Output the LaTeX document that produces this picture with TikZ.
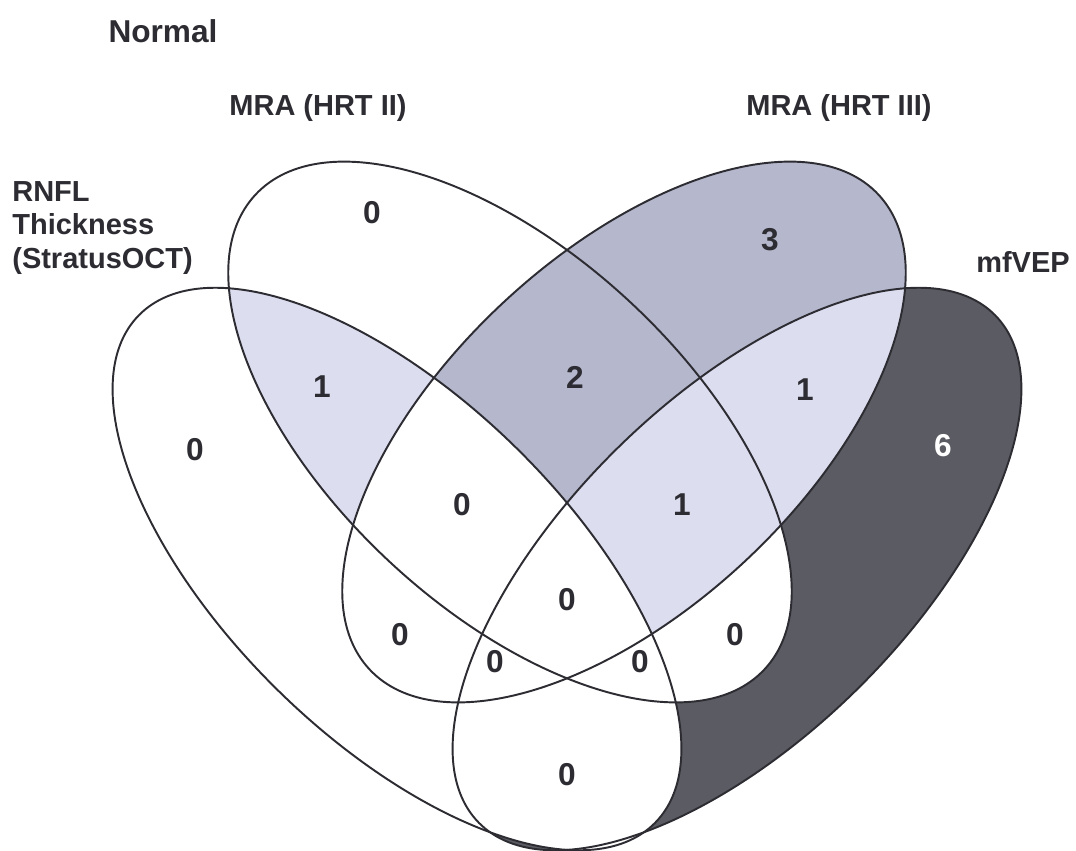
\documentclass[tikz,border=0pt]{standalone}
\usepackage{fontspec}
\setmainfont{Liberation Sans}
\definecolor{bcgray}{HTML}{B5B8CC}
\definecolor{lav}{HTML}{DCDDEF}
\definecolor{vepdark}{HTML}{5B5B63}
\definecolor{ink}{HTML}{2C2C32}
\tikzset{outline/.style={draw=ink,line width=1.1pt}}
\tikzset{rnfl/.style={shift={(397,569)},rotate=-44.5}}
\tikzset{hrtii/.style={shift={(510,432)},rotate=-43}}
\tikzset{hrtiii/.style={shift={(624,432)},rotate=43}}
\tikzset{vep/.style={shift={(737,569)},rotate=44.5}}
\tikzset{count/.style={text=ink,font=\bfseries\fontsize{18}{20}\selectfont}}
\tikzset{setname/.style={text=ink,font=\bfseries\fontsize{16.5}{18.8}\selectfont}}
\newcommand{\longoval}{(0,0) ellipse [x radius=362, y radius=170]}
\newcommand{\shortoval}{(0,0) ellipse [x radius=348, y radius=177]}

\begin{document}
\begin{tikzpicture}[x=0.02cm,y=-0.02cm]
    \useasboundingbox (0,0) rectangle (1076,850);
    % shading
    \fill[vep,vepdark] \longoval;
    \fill[hrtii,white] \shortoval;
    \fill[hrtiii,bcgray] \shortoval;
    \begin{scope}
      \clip[hrtiii] \shortoval;
      \fill[vep,lav] \longoval;
    \end{scope}
    \fill[rnfl,white] \longoval;
    \begin{scope}
      \clip[rnfl] \longoval;
      \clip[hrtii] \shortoval;
      \fill[lav] (0,0) rectangle (1076,850);
      \fill[hrtiii,white] \shortoval;
      \fill[vep,white] \longoval;
    \end{scope}
    % outlines
    \draw[outline,rnfl] \longoval;
    \draw[outline,hrtii] \shortoval;
    \draw[outline,hrtiii] \shortoval;
    \draw[outline,vep] \longoval;
    % counts
    \foreach \x/\y/\n [count=\i] in {372/213/0,770/240/3,322/387/1,575/377/2,
        805/390/1,195/450/0,462/505/0,682/505/1,567/600/0,400/635/0,
        735/635/0,495/662/0,640/662/0,567/775/0}{%
          \node[count] (r\i) at (\x,\y) {\n};
        }
    \node[count,text=white] (vepOnly) at (943,446) {6};
    % Labels
    \node[setname,font=\bfseries\fontsize{18}{20}\selectfont,anchor=base] (normal) at (163,42) {Normal};
    \node[setname,anchor=base] (hrtiiName) at (318,115) {MRA (HRT II)};
    \node[setname,anchor=base] (hrtiiiName) at (839,115) {MRA (HRT III)};
    \node[setname,anchor=base west,align=left,inner sep=0pt] (rnflName) at (12,268) {RNFL\\Thickness\\(StratusOCT)};
    \node[setname,anchor=base] (vepName) at (1023,272) {mfVEP};
\end{tikzpicture}
\end{document}
